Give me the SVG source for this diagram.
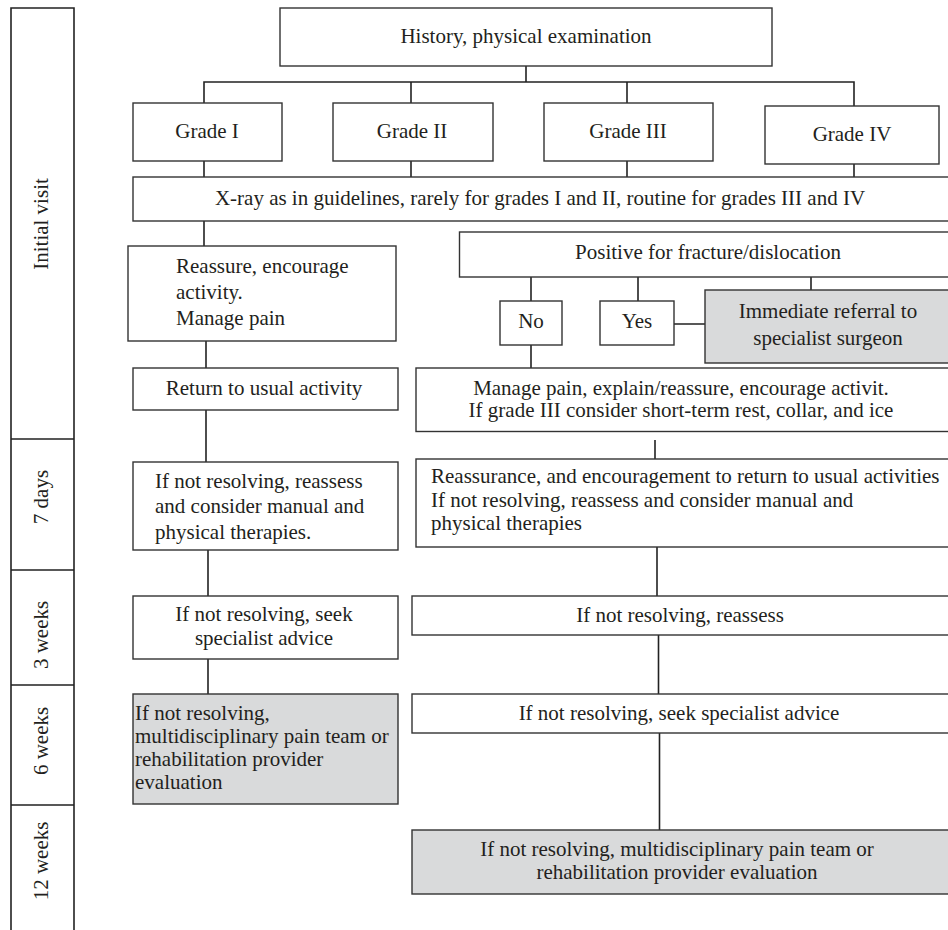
<svg xmlns="http://www.w3.org/2000/svg" width="948" height="930" viewBox="0 0 948 930">
<style>
.b{fill:#fff;stroke:#333;stroke-width:1.4}
.g{fill:#d9dadb;stroke:#333;stroke-width:1.4}
.c{fill:none;stroke:#222;stroke-width:1.6}
text{font-family:"Liberation Serif","Times New Roman",serif;font-size:21px;fill:#231f20}
.m{text-anchor:middle}
</style>
<rect width="948" height="930" fill="#fff"/>
<g id="timeline">
<path class="c" d="M11,940 V8 H74 V940 M11,439 H74 M11,570 H74 M11,685 H74 M11,805 H74"/>
<text class="m" transform="translate(48,224) rotate(-90)">Initial visit</text>
<text class="m" transform="translate(48,497) rotate(-90)">7 days</text>
<text class="m" transform="translate(48,635) rotate(-90)">3 weeks</text>
<text class="m" transform="translate(48,741) rotate(-90)">6 weeks</text>
<text class="m" transform="translate(48,861) rotate(-90)">12 weeks</text>
</g>
<g id="connectors">
<path class="c" d="M526,66 V82 M204,103 V82 H854 V106 M411,82 V103 M627,82 V103"/>
<path class="c" d="M204,161 V177 M411,161 V177 M627,161 V177 M854,164 V177"/>
<path class="c" d="M204,221 V246 M206,341 V368 M206,410 V462 M208,550 V596 M208,659 V694"/>
<path class="c" d="M531,277 V301 M638,277 V301 M811,277 V290 M674,324 H705 M531,345 V368"/>
<path class="c" d="M655,440 V459 M657,547 V596 M658.5,635 V694 M659.5,733 V830"/>
</g>
<g id="history"><rect class="b" x="280" y="8" width="492" height="58"/><text class="m" x="526" y="43">History, physical examination</text></g>
<g id="grade1"><rect class="b" x="133" y="103" width="149" height="58"/><text class="m" x="207" y="138">Grade I</text></g>
<g id="grade2"><rect class="b" x="333" y="103" width="160" height="58"/><text class="m" x="412" y="138">Grade II</text></g>
<g id="grade3"><rect class="b" x="544" y="103" width="169" height="58"/><text class="m" x="628" y="138">Grade III</text></g>
<g id="grade4"><rect class="b" x="765" y="106" width="174" height="58"/><text class="m" x="852" y="141">Grade IV</text></g>
<g id="xray"><rect class="b" x="133" y="177" width="830" height="44"/><text class="m" x="540" y="205">X-ray as in guidelines, rarely for grades I and II, routine for grades III and IV</text></g>
<g id="reassure"><rect class="b" x="128" y="246" width="268" height="95"/><text x="176" y="273">Reassure, encourage</text><text x="176" y="299">activity.</text><text x="176" y="325">Manage pain</text></g>
<g id="return"><rect class="b" x="133" y="368" width="265" height="42"/><text class="m" x="264" y="395">Return to usual activity</text></g>
<g id="left7"><rect class="b" x="133" y="462" width="265" height="88"/><text x="155" y="488">If not resolving, reassess</text><text x="155" y="513">and consider manual and</text><text x="155" y="539">physical therapies.</text></g>
<g id="left3"><rect class="b" x="133" y="596" width="265" height="63"/><text class="m" x="264" y="621">If not resolving, seek</text><text class="m" x="264" y="645">specialist advice</text></g>
<g id="left6"><rect class="g" x="133" y="694" width="265" height="110"/><text x="135" y="720">If not resolving,</text><text x="135" y="743">multidisciplinary pain team or</text><text x="135" y="766">rehabilitation provider</text><text x="135" y="789">evaluation</text></g>
<g id="positive"><rect class="b" x="459.5" y="232" width="510" height="45"/><text class="m" x="708" y="259">Positive for fracture/dislocation</text></g>
<g id="no"><rect class="b" x="500" y="301" width="62" height="44"/><text class="m" x="531" y="328">No</text></g>
<g id="yes"><rect class="b" x="600" y="301" width="74" height="44"/><text class="m" x="637" y="328">Yes</text></g>
<g id="referral"><rect class="g" x="705" y="290" width="262" height="73"/><text class="m" x="828" y="318">Immediate referral to</text><text class="m" x="828" y="345">specialist surgeon</text></g>
<g id="manage"><rect class="b" x="416" y="368" width="551" height="63.5"/><text class="m" x="681" y="395">Manage pain, explain/reassure, encourage activit.</text><text class="m" x="681" y="417">If grade III consider short-term rest, collar, and ice</text></g>
<g id="right7"><rect class="b" x="416" y="459" width="551" height="88"/><text x="431" y="483">Reassurance, and encouragement to return to usual activities</text><text x="431" y="507">If not resolving, reassess and consider manual and</text><text x="431" y="530">physical therapies</text></g>
<g id="right3"><rect class="b" x="412" y="596" width="555" height="39"/><text class="m" x="680" y="622">If not resolving, reassess</text></g>
<g id="right6"><rect class="b" x="412" y="694" width="555" height="39"/><text class="m" x="679" y="720">If not resolving, seek specialist advice</text></g>
<g id="right12"><rect class="g" x="412" y="830" width="555" height="64"/><text class="m" x="677" y="856">If not resolving, multidisciplinary pain team or</text><text class="m" x="677" y="879">rehabilitation provider evaluation</text></g>
</svg>
